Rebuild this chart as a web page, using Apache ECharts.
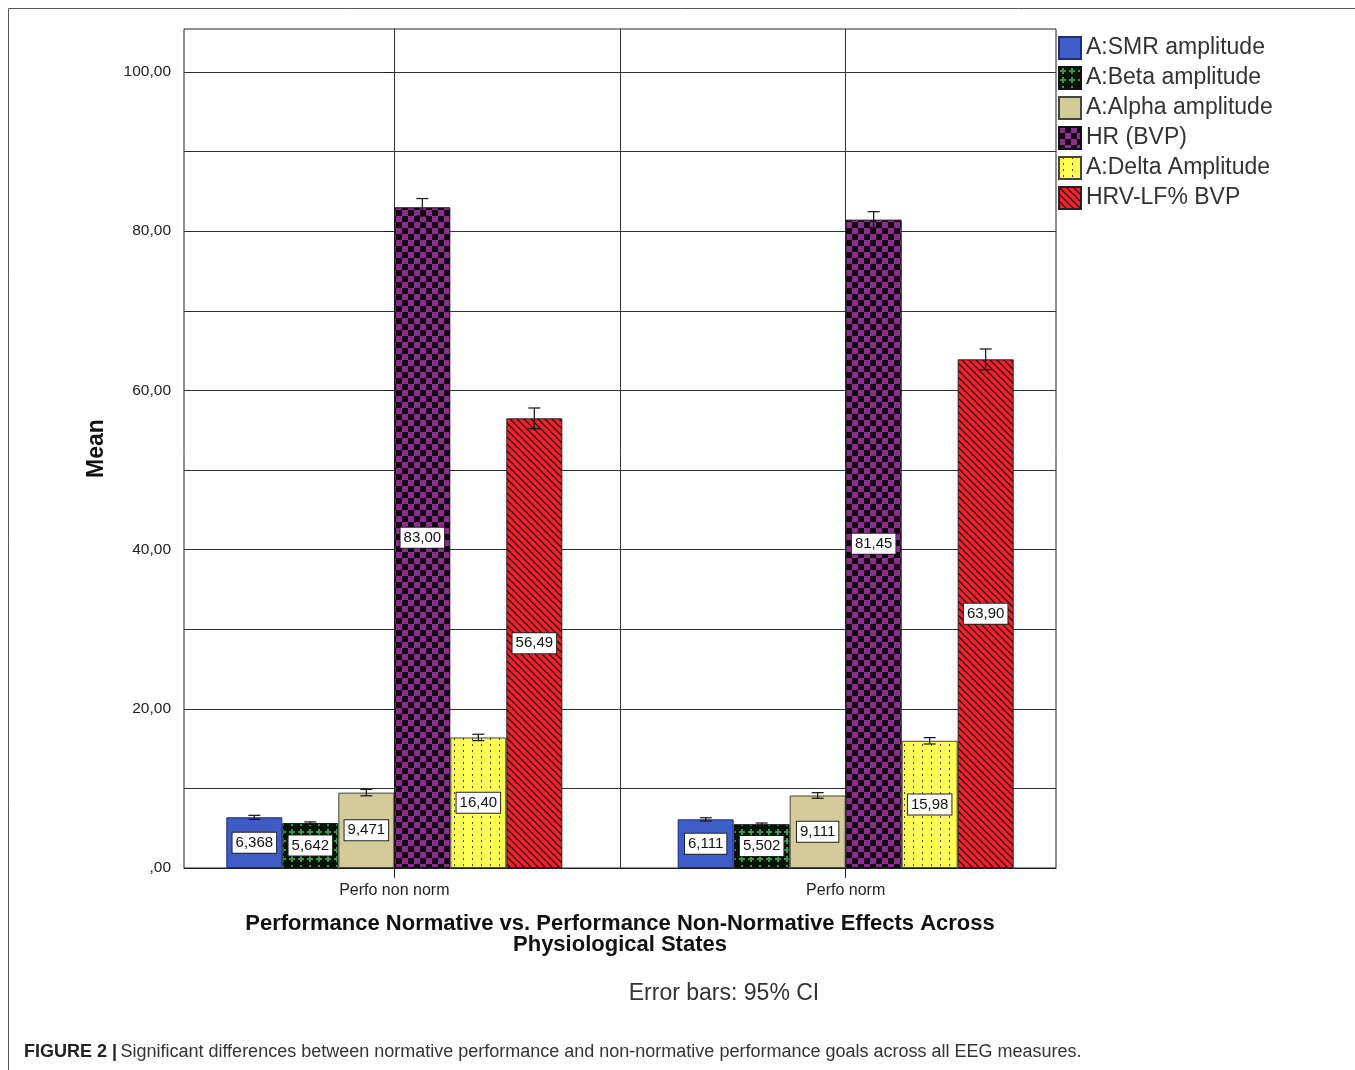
<!DOCTYPE html>
<html>
<head>
<meta charset="utf-8">
<script src="https://cdn.jsdelivr.net/npm/echarts@6/dist/echarts.min.js"></script>
<style>
html,body{margin:0;padding:0;background:#fff;}
#chart{width:1355px;height:1070px;}
</style>
</head>
<body>
<div id="chart"></div>
<script>
// ---- data ----
const categories = ['Perfo non norm', 'Perfo norm'];
const seriesNames = ['A:SMR amplitude', 'A:Beta amplitude', 'A:Alpha amplitude', 'HR (BVP)', 'A:Delta Amplitude', 'HRV-LF% BVP'];
const smrMean = [6.368, 6.111];
const betaMean = [5.642, 5.502];
const alphaMean = [9.471, 9.111];
const hrMean = [83.00, 81.45];
const deltaMean = [16.40, 15.98];
const hrvMean = [56.49, 63.90];
// 95% CI half-widths
const smrErr = [0.25, 0.2];
const betaErr = [0.15, 0.15];
const alphaErr = [0.4, 0.35];
const hrErr = [1.1, 1.0];
const deltaErr = [0.4, 0.4];
const hrvErr = [1.3, 1.3];
const yTickLabels = [0, 20, 40, 60, 80, 100];
const yMinorLines = [10, 30, 50, 70, 90];

const means = [smrMean, betaMean, alphaMean, hrMean, deltaMean, hrvMean];
const errs = [smrErr, betaErr, alphaErr, hrErr, deltaErr, hrvErr];

function pattern(w, h, draw) {
  const c = document.createElement('canvas');
  c.width = w; c.height = h;
  draw(c.getContext('2d'));
  return { image: c, repeat: 'repeat' };
}
const fills = [
  '#3d5cc6',
  pattern(9, 9, g => { g.fillStyle = '#061206'; g.fillRect(0,0,9,9); g.fillStyle = '#35984a'; g.fillRect(3,1,2,6); g.fillRect(1,3,6,2); }),
  '#d3cb98',
  pattern(12, 12, g => { g.fillStyle = '#120412'; g.fillRect(0,0,12,12); g.fillStyle = '#8e2c90'; g.fillRect(0,0,6,6); g.fillRect(6,6,6,6); }),
  pattern(9, 6, g => { g.fillStyle = '#ffff55'; g.fillRect(0,0,9,6); g.fillStyle = '#3e3e20'; g.fillRect(4,0,1,2); }),
  pattern(7, 7, g => { g.fillStyle = '#f0222c'; g.fillRect(0,0,7,7); g.strokeStyle = '#1a0505'; g.lineWidth = 1.2;
    g.beginPath(); g.moveTo(-1,-1); g.lineTo(8,8); g.moveTo(-1,6); g.lineTo(1,8); g.moveTo(6,-1); g.lineTo(8,1); g.stroke(); })
];
const borders = ['#1c2c7a', '#111', '#444', '#111', '#444', '#222'];

const BAR_W = 56;
const series = [];
seriesNames.forEach((name, i) => {
  series.push({
    name: name,
    type: 'bar',
    barWidth: BAR_W,
    barGap: '0%',
    z: 2,
    itemStyle: { color: fills[i], borderColor: borders[i], borderWidth: 1 },
    label: {
      show: true, position: 'inside',
      formatter: p => p.value[1].toPrecision(4).replace('.', ','),
      backgroundColor: '#fff', borderColor: '#222', borderWidth: 1,
      padding: [3, 3, 2, 3], fontSize: 15, color: '#111', fontFamily: 'Liberation Sans'
    },
    data: means[i].map((v, k) => [k, v])
  });
});
const errData = [];
means.forEach((m, i) => m.forEach((v, k) => errData.push([k, v - errs[i][k], v + errs[i][k], i])));
series.push({
  name: 'err', type: 'custom', z: 5, silent: true,
  encode: { x: 0, y: [1, 2] },
  renderItem: (params, api) => {
    const off = (api.value(3) - 2.5) * BAR_W;
    const lo = api.coord([api.value(0), api.value(1)]);
    const hi = api.coord([api.value(0), api.value(2)]);
    const x = lo[0] + off, cw = 6;
    const st = { stroke: '#111', lineWidth: 1.2 };
    return { type: 'group', children: [
      { type: 'line', shape: { x1: x, y1: lo[1], x2: x, y2: hi[1] }, style: st },
      { type: 'line', shape: { x1: x - cw, y1: hi[1], x2: x + cw, y2: hi[1] }, style: st },
      { type: 'line', shape: { x1: x - cw, y1: lo[1], x2: x + cw, y2: lo[1] }, style: st }
    ]};
  },
  data: errData
});
series.push({
  name: 'vlines', type: 'line', data: [], z: 1, silent: true,
  markLine: { silent: true, z: 1, symbol: 'none', label: { show: false },
    lineStyle: { color: '#333', width: 1, type: 'solid' },
    data: [{ xAxis: 0 }, { xAxis: 0.5 }, { xAxis: 1 }].concat(yMinorLines.map(v => ({ yAxis: v }))) }
});

const chart = echarts.init(document.getElementById('chart'), null, { renderer: 'canvas' });
chart.setOption({
  backgroundColor: '#fff',
  animation: false,
  textStyle: { fontFamily: 'Liberation Sans' },
  grid: { left: 184, top: 29, right: 299, bottom: 202, show: true, borderColor: '#222', borderWidth: 1 },
  legend: {
    data: seriesNames, orient: 'vertical', left: 1058, top: 36,
    itemWidth: 22, itemHeight: 22, itemGap: 6, icon: 'rect', padding: 0,
    textStyle: { fontSize: 23, lineHeight: 22, color: '#333', fontFamily: 'Liberation Sans' }
  },
  xAxis: {
    type: 'value', min: -0.466, max: 1.466,
    axisLine: { show: true, lineStyle: { color: '#222' } },
    axisTick: { show: true, customValues: [0, 1], length: 10, lineStyle: { color: '#222' } },
    axisLabel: { customValues: [0, 1], formatter: v => categories[Math.round(v)], fontSize: 16, color: '#222', margin: 15 },
    splitLine: { show: false },
    name: 'Performance Normative vs. Performance Non-Normative Effects Across\nPhysiological States',
    nameLocation: 'middle', nameGap: 45,
    nameTextStyle: { fontSize: 22, fontWeight: 'bold', color: '#111', lineHeight: 21, align: 'center' }
  },
  yAxis: {
    type: 'value', min: 0, max: 105.4, interval: 10,
    axisLine: { show: true, lineStyle: { color: '#222' } },
    axisTick: { show: true, customValues: yTickLabels, length: 10, lineStyle: { color: '#222' } },
    axisLabel: { customValues: yTickLabels, formatter: v => v === 0 ? ',00' : v.toFixed(2).replace('.', ','), fontSize: 15.5, color: '#222', margin: 13 },
    splitLine: { show: true, lineStyle: { color: '#333', width: 1 } },
    name: 'Mean', nameLocation: 'middle', nameGap: 76,
    nameTextStyle: { fontSize: 23, fontWeight: 'bold', color: '#111' }
  },
  graphic: [
    { type: 'line', shape: { x1: 8.5, y1: 8.5, x2: 1355, y2: 8.5 }, style: { stroke: '#555', lineWidth: 1 } },
    { type: 'line', shape: { x1: 8.5, y1: 8.5, x2: 8.5, y2: 1070 }, style: { stroke: '#555', lineWidth: 1 } },
    { type: 'text', x: 724, y: 994, style: { x: 0, y: 0, text: 'Error bars: 95% CI', fontSize: 23, fill: '#333', fontFamily: 'Liberation Sans', textAlign: 'center', textVerticalAlign: 'middle' } },
    { type: 'text', x: 24, y: 1052, style: { x: 0, y: 0, textVerticalAlign: 'middle',
      text: '{b|FIGURE 2 |} {n|Significant differences between normative performance and non-normative performance goals across all EEG measures.}',
      rich: { b: { fontWeight: 'bold', fontSize: 18, fill: '#222', fontFamily: 'Liberation Sans' },
              n: { fontSize: 18, fill: '#333', fontFamily: 'Liberation Sans' } } } }
  ],
  series: series
});
</script>
</body>
</html>
